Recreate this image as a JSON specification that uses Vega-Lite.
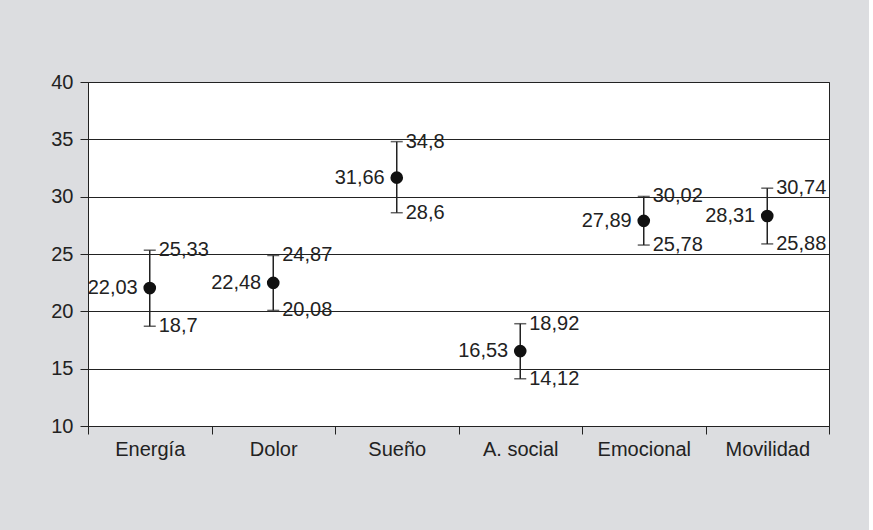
{
  "$schema": "https://vega.github.io/schema/vega-lite/v6.json",
  "autosize": {"type": "none"},
  "padding": {"left": 88, "top": 82, "right": 40, "bottom": 104},
  "width": 741,
  "height": 344,
  "background": "#dcdde0",
  "config": {
    "locale": {
      "number": {"decimal": ",", "thousands": ".", "grouping": [3], "currency": ["", " €"]}
    },
    "font": "Liberation Sans",
    "view": {"fill": "white", "stroke": "#222", "strokeWidth": 1},
    "axis": {
      "labelFont": "Liberation Sans",
      "labelFontSize": 20,
      "labelColor": "#222",
      "domainColor": "#222",
      "tickColor": "#222",
      "tickSize": 8,
      "title": null
    }
  },
  "data": {
    "values": [
      {"dimension": "Energía", "media": 22.03, "inferior": 18.7, "superior": 25.33},
      {"dimension": "Dolor", "media": 22.48, "inferior": 20.08, "superior": 24.87},
      {"dimension": "Sueño", "media": 31.66, "inferior": 28.6, "superior": 34.8},
      {"dimension": "A. social", "media": 16.53, "inferior": 14.12, "superior": 18.92},
      {"dimension": "Emocional", "media": 27.89, "inferior": 25.78, "superior": 30.02},
      {"dimension": "Movilidad", "media": 28.31, "inferior": 25.88, "superior": 30.74}
    ]
  },
  "encoding": {
    "x": {
      "field": "dimension",
      "type": "nominal",
      "sort": null,
      "scale": {"type": "band", "paddingInner": 0, "paddingOuter": 0},
      "axis": {"labelAngle": 0, "tickBand": "extent", "labelPadding": 5, "grid": false}
    }
  },
  "layer": [
    {
      "mark": {"type": "rule", "color": "#222", "strokeWidth": 1.5},
      "encoding": {
        "y": {
          "field": "inferior",
          "type": "quantitative",
          "scale": {"domain": [10, 40], "nice": false, "zero": false},
          "axis": {"values": [10, 15, 20, 25, 30, 35, 40], "grid": true, "gridColor": "#222", "gridWidth": 1, "gridOpacity": 1, "labelPadding": 7}
        },
        "y2": {"field": "superior"}
      }
    },
    {
      "mark": {"type": "tick", "orient": "horizontal", "color": "#222", "size": 12, "thickness": 1.5},
      "encoding": {"y": {"field": "inferior", "type": "quantitative"}}
    },
    {
      "mark": {"type": "tick", "orient": "horizontal", "color": "#222", "size": 12, "thickness": 1.5},
      "encoding": {"y": {"field": "superior", "type": "quantitative"}}
    },
    {
      "mark": {"type": "point", "filled": true, "color": "#111", "opacity": 1, "size": 160},
      "encoding": {"y": {"field": "media", "type": "quantitative"}}
    },
    {
      "mark": {"type": "text", "align": "right", "baseline": "middle", "dx": -12, "fontSize": 20, "color": "#222"},
      "encoding": {
        "y": {"field": "media", "type": "quantitative"},
        "text": {"field": "media", "type": "quantitative", "format": "~g"}
      }
    },
    {
      "mark": {"type": "text", "align": "left", "baseline": "middle", "dx": 9, "fontSize": 20, "color": "#222"},
      "encoding": {
        "y": {"field": "superior", "type": "quantitative"},
        "text": {"field": "superior", "type": "quantitative", "format": "~g"}
      }
    },
    {
      "mark": {"type": "text", "align": "left", "baseline": "middle", "dx": 9, "fontSize": 20, "color": "#222"},
      "encoding": {
        "y": {"field": "inferior", "type": "quantitative"},
        "text": {"field": "inferior", "type": "quantitative", "format": "~g"}
      }
    }
  ]
}
